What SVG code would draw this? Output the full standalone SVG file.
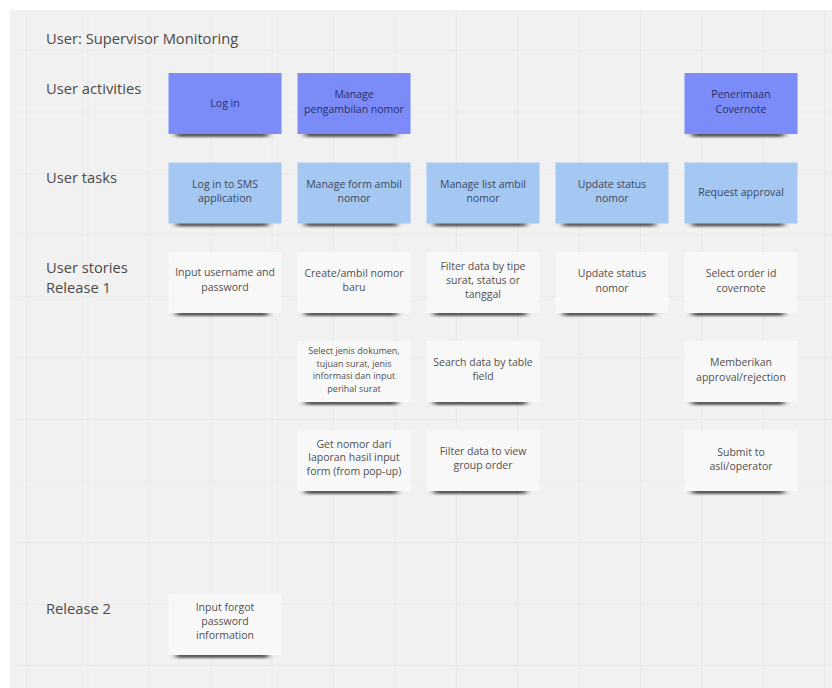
<svg xmlns="http://www.w3.org/2000/svg" width="832" height="688" viewBox="0 0 832 688">
  <defs>
    <pattern id="grid" x="26" y="50" width="61.4" height="61.5" patternUnits="userSpaceOnUse">
      <path d="M0 0V61.5M0 0H61.4" fill="none" stroke="#e3e3e3" stroke-width="1.2"/>
    </pattern>
    <filter id="curl" x="-20%" y="-200%" width="140%" height="500%">
      <feGaussianBlur stdDeviation="3 1.3"/>
    </filter>
  </defs>
  <style>
    .lane { font-family: "Open Sans", "Liberation Sans", sans-serif; font-size: 14.7px; fill: #4a4a4a; }
    .note text { font-family: "Open Sans", "Liberation Sans", sans-serif; font-size: 10.5px; text-anchor: middle; }
    .shadow { fill: #262626; opacity: 0.75; filter: url(#curl); }
    .activity rect.body { fill: #7b8cf8; }
    .activity text { fill: #27306a; }
    .task rect.body { fill: #a5c8f3; }
    .task text { fill: #39475a; }
    .story rect.body { fill: #f8f8f8; }
    .story text { fill: #505050; }
    .small text { font-size: 9px; }
  </style>

  <!-- board -->
  <rect width="832" height="688" fill="#ffffff"/>
  <rect x="10" y="10" width="822" height="678" fill="#f1f1f1"/>
  <rect x="10" y="10" width="822" height="678" fill="url(#grid)"/>

  <!-- lane headings -->
  <g id="headings">
    <text class="lane" x="46" y="43.5">User: Supervisor Monitoring</text>
    <text class="lane" x="46" y="93.5">User activities</text>
    <text class="lane" x="46" y="183">User tasks</text>
    <text class="lane" x="46" y="272.5">User stories</text>
    <text class="lane" x="46" y="293">Release 1</text>
    <text class="lane" x="46" y="614">Release 2</text>
  </g>

  <g id="connectors"/>

  <!-- user activities -->
  <g id="act-login" class="note activity">
    <rect class="shadow" x="176" y="131" width="92" height="6"/>
    <rect class="body" x="168.5" y="73" width="113" height="61"/>
    <text x="225" y="106.5">Log in</text>
  </g>
  <g id="act-manage-pengambilan" class="note activity">
    <rect class="shadow" x="305" y="131" width="92" height="6"/>
    <rect class="body" x="297.5" y="73" width="113" height="61"/>
    <text x="354" y="98">Manage</text>
    <text x="354" y="113">pengambilan nomor</text>
  </g>
  <g id="act-penerimaan" class="note activity">
    <rect class="shadow" x="692" y="131" width="92" height="6"/>
    <rect class="body" x="684.5" y="73" width="113" height="61"/>
    <text x="741" y="98">Penerimaan</text>
    <text x="741" y="113">Covernote</text>
  </g>

  <!-- user tasks -->
  <g id="task-login-sms" class="note task">
    <rect class="shadow" x="176" y="220.5" width="92" height="6"/>
    <rect class="body" x="168.5" y="162.5" width="113" height="61"/>
    <text x="225" y="187.5">Log in to SMS</text>
    <text x="225" y="202">application</text>
  </g>
  <g id="task-manage-form" class="note task">
    <rect class="shadow" x="305" y="220.5" width="92" height="6"/>
    <rect class="body" x="297.5" y="162.5" width="113" height="61"/>
    <text x="354" y="187.5">Manage form ambil</text>
    <text x="354" y="202">nomor</text>
  </g>
  <g id="task-manage-list" class="note task">
    <rect class="shadow" x="434" y="220.5" width="92" height="6"/>
    <rect class="body" x="426.5" y="162.5" width="113" height="61"/>
    <text x="483" y="187.5">Manage list ambil</text>
    <text x="483" y="202">nomor</text>
  </g>
  <g id="task-update-status" class="note task">
    <rect class="shadow" x="563" y="220.5" width="92" height="6"/>
    <rect class="body" x="555.5" y="162.5" width="113" height="61"/>
    <text x="612" y="187.5">Update status</text>
    <text x="612" y="202">nomor</text>
  </g>
  <g id="task-request-approval" class="note task">
    <rect class="shadow" x="692" y="220.5" width="92" height="6"/>
    <rect class="body" x="684.5" y="162.5" width="113" height="61"/>
    <text x="741" y="195.5">Request approval</text>
  </g>

  <!-- user stories, release 1 -->
  <g id="story-input-username" class="note story">
    <rect class="shadow" x="176" y="310" width="92" height="6"/>
    <rect class="body" x="168.5" y="252" width="113" height="61"/>
    <text x="225" y="276">Input username and</text>
    <text x="225" y="290.5">password</text>
  </g>
  <g id="story-create-nomor" class="note story">
    <rect class="shadow" x="305" y="310" width="92" height="6"/>
    <rect class="body" x="297.5" y="252" width="113" height="61"/>
    <text x="354" y="276.5">Create/ambil nomor</text>
    <text x="354" y="291">baru</text>
  </g>
  <g id="story-filter-tipe" class="note story">
    <rect class="shadow" x="434" y="310" width="92" height="6"/>
    <rect class="body" x="426.5" y="252" width="113" height="61"/>
    <text x="483" y="270">Filter data by tipe</text>
    <text x="483" y="284">surat, status or</text>
    <text x="483" y="298">tanggal</text>
  </g>
  <g id="story-update-status" class="note story">
    <rect class="shadow" x="563" y="310" width="92" height="6"/>
    <rect class="body" x="555.5" y="252" width="113" height="61"/>
    <text x="612" y="277">Update status</text>
    <text x="612" y="291.5">nomor</text>
  </g>
  <g id="story-select-order" class="note story">
    <rect class="shadow" x="692" y="310" width="92" height="6"/>
    <rect class="body" x="684.5" y="252" width="113" height="61"/>
    <text x="741" y="277">Select order id</text>
    <text x="741" y="291.5">covernote</text>
  </g>

  <g id="story-select-jenis" class="note story small">
    <rect class="shadow" x="305" y="399" width="92" height="6"/>
    <rect class="body" x="297.5" y="341" width="113" height="61"/>
    <text x="354" y="353.5">Select jenis dokumen,</text>
    <text x="354" y="366.5">tujuan surat, jenis</text>
    <text x="354" y="379">informasi dan input</text>
    <text x="354" y="392">perihal surat</text>
  </g>
  <g id="story-search-field" class="note story">
    <rect class="shadow" x="434" y="399" width="92" height="6"/>
    <rect class="body" x="426.5" y="341" width="113" height="61"/>
    <text x="483" y="366">Search data by table</text>
    <text x="483" y="380">field</text>
  </g>
  <g id="story-memberikan" class="note story">
    <rect class="shadow" x="692" y="399" width="92" height="6"/>
    <rect class="body" x="684.5" y="341" width="113" height="61"/>
    <text x="741" y="366">Memberikan</text>
    <text x="741" y="380.5">approval/rejection</text>
  </g>

  <g id="story-get-nomor" class="note story">
    <rect class="shadow" x="305" y="488" width="92" height="6"/>
    <rect class="body" x="297.5" y="430" width="113" height="61"/>
    <text x="354" y="447.5">Get nomor dari</text>
    <text x="354" y="461">laporan hasil input</text>
    <text x="354" y="474.5">form (from pop-up)</text>
  </g>
  <g id="story-filter-group" class="note story">
    <rect class="shadow" x="434" y="488" width="92" height="6"/>
    <rect class="body" x="426.5" y="430" width="113" height="61"/>
    <text x="483" y="455">Filter data to view</text>
    <text x="483" y="469">group order</text>
  </g>
  <g id="story-submit" class="note story">
    <rect class="shadow" x="692" y="488" width="92" height="6"/>
    <rect class="body" x="684.5" y="430" width="113" height="61"/>
    <text x="741" y="455.5">Submit to</text>
    <text x="741" y="469.5">asli/operator</text>
  </g>

  <!-- release 2 -->
  <g id="story-forgot-password" class="note story">
    <rect class="shadow" x="176" y="652" width="92" height="6"/>
    <rect class="body" x="168.5" y="594" width="113" height="61"/>
    <text x="225" y="611">Input forgot</text>
    <text x="225" y="625">password</text>
    <text x="225" y="639">information</text>
  </g>
</svg>
